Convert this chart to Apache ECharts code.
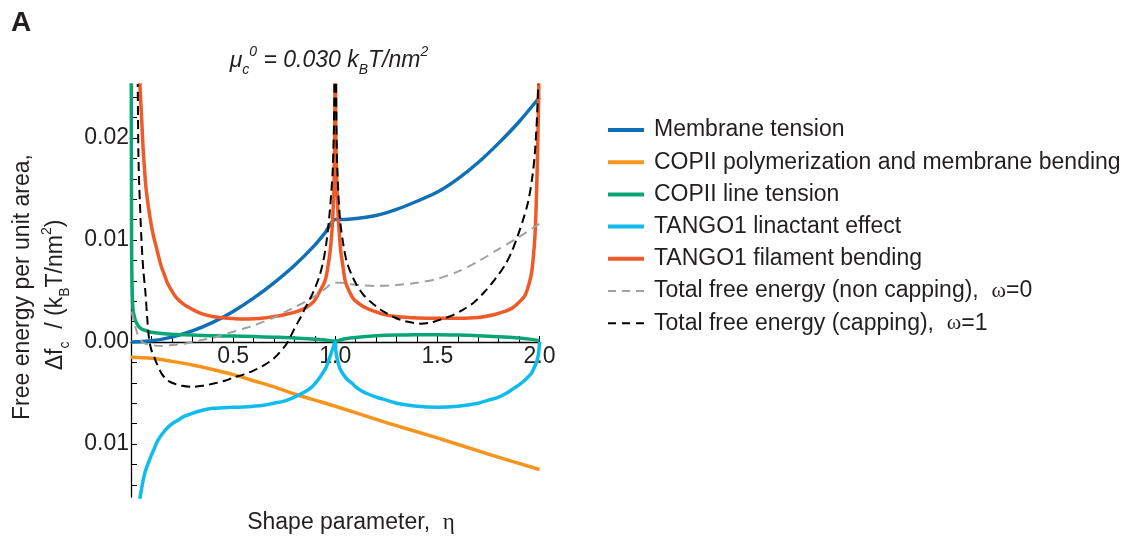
<!DOCTYPE html>
<html>
<head>
<meta charset="utf-8">
<script src="https://cdn.jsdelivr.net/npm/echarts@6/dist/echarts.min.js"></script>
<style>
  html, body { margin: 0; padding: 0; background: #ffffff; }
  #chart { width: 1123px; height: 536px; }
</style>
</head>
<body>
<div id="chart"></div>
<script>
// Free-energy contributions per unit area vs shape parameter η (pairs of [η, Δf])
const membraneTension = [
  [0, 0], [0.1, 0.00012], [0.2, 0.00048], [0.3, 0.00108], [0.4, 0.00192], [0.5, 0.0030],
  [0.6, 0.0043], [0.7, 0.0058], [0.8, 0.0075], [0.9, 0.0095], [0.95, 0.0107], [1.0, 0.0120],
  [1.05, 0.01202], [1.1, 0.0121], [1.2, 0.0124], [1.3, 0.0130], [1.4, 0.0138], [1.5, 0.0147],
  [1.6, 0.0160], [1.7, 0.0176], [1.8, 0.0195], [1.9, 0.0216], [2.0, 0.0240]
];
const copiiPolymerization = [
  [0, -0.0015], [0.1, -0.0016], [0.2, -0.0019], [0.3, -0.00225], [0.4, -0.0027], [0.5, -0.0032],
  [0.6, -0.0038], [0.7, -0.0044], [0.8, -0.0051], [0.9, -0.0057], [1.0, -0.0063],
  [1.25, -0.0079], [1.5, -0.0094], [1.75, -0.0110], [2.0, -0.0125]
];
const copiiLineTension = [
  [0.001, 0.03], [0.003, 0.009], [0.006, 0.0048], [0.01, 0.0032], [0.02, 0.0022], [0.035, 0.0016],
  [0.05, 0.0013], [0.075, 0.0011], [0.1, 0.00095], [0.15, 0.00084], [0.2, 0.00076], [0.3, 0.00068],
  [0.4, 0.00062], [0.5, 0.00058], [0.6, 0.00053], [0.7, 0.00047], [0.8, 0.0004], [0.9, 0.00028],
  [0.95, 0.0002], [1.0, 0.0001], [1.05, 0.00032], [1.1, 0.00045], [1.2, 0.0006], [1.3, 0.00068],
  [1.4, 0.00071], [1.5, 0.00072], [1.6, 0.00069], [1.7, 0.00062], [1.8, 0.00052], [1.9, 0.00038],
  [1.95, 0.00028], [2.0, 0.00015]
];
const tango1Linactant = [
  [0.035, -0.0185], [0.044, -0.0153], [0.05, -0.0146], [0.06, -0.0135], [0.07, -0.0127],
  [0.08, -0.0121], [0.09, -0.0116], [0.1, -0.0111], [0.115, -0.0104], [0.13, -0.0097],
  [0.15, -0.0091], [0.17, -0.0086], [0.19, -0.0082], [0.21, -0.0079], [0.235, -0.0076],
  [0.26, -0.0073], [0.3, -0.0070], [0.35, -0.0067], [0.4, -0.0065], [0.45, -0.00645],
  [0.5, -0.0064], [0.55, -0.00637], [0.6, -0.0063], [0.65, -0.0062], [0.7, -0.0060],
  [0.75, -0.0058], [0.8, -0.0054], [0.85, -0.0049], [0.88, -0.0045], [0.9, -0.0041],
  [0.92, -0.0036], [0.94, -0.0030], [0.955, -0.0025], [0.97, -0.0017], [0.98, -0.0011],
  [0.99, -0.0005], [1.0, 0],
  [1.003, -0.0009], [1.008, -0.0015], [1.015, -0.0021], [1.025, -0.0027], [1.04, -0.0032],
  [1.06, -0.0037], [1.08, -0.0040], [1.1, -0.0044], [1.13, -0.0048], [1.16, -0.0051],
  [1.2, -0.0054], [1.25, -0.0057], [1.3, -0.0060], [1.4, -0.0063], [1.5, -0.0064],
  [1.6, -0.0063], [1.7, -0.0060], [1.75, -0.0057], [1.8, -0.0054], [1.84, -0.0050],
  [1.87, -0.0046], [1.9, -0.0042], [1.925, -0.0038], [1.945, -0.0034], [1.96, -0.0031],
  [1.97, -0.0027], [1.985, -0.0020], [1.995, -0.0012], [2.0, 0]
];
const tango1Filament = [
  [0.04, 0.030], [0.044, 0.0252], [0.048, 0.0235], [0.052, 0.0219], [0.056, 0.0203], [0.06, 0.0187],
  [0.066, 0.0170], [0.072, 0.0154], [0.08, 0.0140], [0.09, 0.0126], [0.1, 0.0114], [0.11, 0.0104],
  [0.12, 0.0096], [0.13, 0.0088], [0.14, 0.0080], [0.15, 0.0073], [0.165, 0.0065], [0.18, 0.0057],
  [0.2, 0.0050], [0.22, 0.0044], [0.24, 0.0040], [0.265, 0.0036], [0.3, 0.0032], [0.33, 0.0029],
  [0.36, 0.00268], [0.4, 0.0025], [0.46, 0.00235], [0.5, 0.0023], [0.55, 0.00226], [0.6, 0.00228],
  [0.65, 0.00235], [0.7, 0.0025], [0.75, 0.00268], [0.8, 0.0029], [0.85, 0.0033], [0.88, 0.0037],
  [0.9, 0.0041], [0.925, 0.0050], [0.95, 0.0060], [0.965, 0.0075], [0.975, 0.0089], [0.982, 0.0104],
  [0.9875, 0.0121], [0.994, 0.0154], [0.998, 0.022], [1.0, 0.04],
  [1.002, 0.022], [1.008, 0.0154], [1.015, 0.0121], [1.021, 0.0104], [1.027, 0.0089], [1.037, 0.0075],
  [1.05, 0.0059], [1.07, 0.0049], [1.09, 0.0042], [1.12, 0.0037], [1.155, 0.0033], [1.2, 0.00295],
  [1.235, 0.00271], [1.3, 0.0025], [1.4, 0.00236], [1.5, 0.00232], [1.6, 0.00232], [1.7, 0.0024],
  [1.78, 0.0027], [1.83, 0.0030], [1.865, 0.0033], [1.9, 0.0039], [1.93, 0.0046], [1.95, 0.0058],
  [1.962, 0.0069], [1.972, 0.0088], [1.978, 0.0105], [1.983, 0.0130], [1.987, 0.0156], [1.991, 0.019],
  [1.994, 0.0219], [1.997, 0.026], [2.0, 0.04]
];
const totalNonCapping = [
  [0.002, 0.003], [0.01, 0.0024], [0.02, 0.0016], [0.03, 0.0009], [0.04, 0.0004], [0.055, 0.0],
  [0.075, -0.0002], [0.1, -0.0003], [0.15, -0.0004], [0.2, -0.0003], [0.25, -0.0002], [0.3, 0.0],
  [0.35, 0.0002], [0.4, 0.0004], [0.45, 0.0007], [0.5, 0.0010], [0.55, 0.0013], [0.6, 0.0016],
  [0.65, 0.0020], [0.7, 0.0024], [0.75, 0.0029], [0.8, 0.0034], [0.85, 0.0039], [0.9, 0.0045],
  [0.95, 0.0052], [0.98, 0.0057], [1.0, 0.0058], [1.03, 0.0058], [1.07, 0.0057], [1.1, 0.0056],
  [1.2, 0.0055], [1.3, 0.0056], [1.4, 0.0058], [1.5, 0.0062], [1.6, 0.0069], [1.7, 0.0079],
  [1.8, 0.0091], [1.9, 0.0103], [2.0, 0.0116]
];
const totalCapping = [
  [0.03, 0.03], [0.033, 0.025], [0.036, 0.0187], [0.04, 0.0155], [0.044, 0.0135], [0.05, 0.0105],
  [0.06, 0.0071], [0.07, 0.0050], [0.08, 0.0022], [0.088, 0.0004], [0.1, -0.0008], [0.118, -0.0017],
  [0.126, -0.0021], [0.15, -0.0031], [0.175, -0.0037], [0.2, -0.0040], [0.25, -0.0043], [0.3, -0.0044],
  [0.35, -0.0043], [0.4, -0.0041], [0.46, -0.0038], [0.5, -0.0035], [0.55, -0.0032], [0.6, -0.0028],
  [0.65, -0.0023], [0.7, -0.0016], [0.75, -0.0005], [0.77, 0.0001], [0.8, 0.0013], [0.83, 0.0024],
  [0.86, 0.0036], [0.89, 0.0048], [0.92, 0.0063], [0.94, 0.0078], [0.955, 0.0095], [0.97, 0.0121],
  [0.98, 0.0145], [0.988, 0.0170], [0.995, 0.023], [1.0, 0.04],
  [1.005, 0.023], [1.01, 0.017], [1.023, 0.0121], [1.04, 0.0095], [1.056, 0.0079], [1.08, 0.0066],
  [1.105, 0.0056], [1.135, 0.0047], [1.17, 0.0040], [1.2, 0.0035], [1.235, 0.0030], [1.29, 0.0024],
  [1.35, 0.0020], [1.42, 0.0018], [1.47, 0.0019], [1.5, 0.0021], [1.56, 0.0025], [1.62, 0.0031],
  [1.68, 0.0039], [1.73, 0.0049], [1.78, 0.0061], [1.83, 0.0075], [1.865, 0.0089], [1.895, 0.0105],
  [1.92, 0.0120], [1.945, 0.0138], [1.965, 0.0162], [1.978, 0.0187], [1.991, 0.0236], [1.997, 0.03]
];

// Axis ticks and labels
const xTickValues = [0.1, 0.2, 0.3, 0.4, 0.5, 0.6, 0.7, 0.8, 0.9, 1.0, 1.1, 1.2, 1.3, 1.4, 1.5, 1.6, 1.7, 1.8, 1.9, 2.0];
const xLabelValues = [0.5, 1.0, 1.5, 2.0];
const yTickValues = [-0.014, -0.012, -0.010, -0.008, -0.006, -0.004, -0.002, 0, 0.002, 0.004, 0.006,
  0.008, 0.010, 0.012, 0.014, 0.016, 0.018, 0.020, 0.022, 0.024];
const yLabelValues = [-0.01, 0, 0.01, 0.02];

const seriesNames = [
  'Membrane tension',
  'COPII polymerization and membrane bending',
  'COPII line tension',
  'TANGO1 linactant effect',
  'TANGO1 filament bending',
  'Total free energy (non capping),  ω=0',
  'Total free energy (capping),  ω=1'
];

const FONT = '"Liberation Sans", Arial, Helvetica, sans-serif';
const SERIF = '"Liberation Serif", "Times New Roman", serif';
const INK = '#231f20';

// Plot frame and value range
const GRID = { left: 131, top: 85, width: 408.5, height: 412 };
const Y_MIN = -0.0152, Y_MAX = 0.0252;
// Horizontal axis sits on Δf = 0 inside the frame
const zeroOffset = -GRID.height * (0 - Y_MIN) / (Y_MAX - Y_MIN);

function curve(name, data, color, width, dash) {
  return {
    name: name,
    type: 'line',
    data: data,
    symbol: 'none',
    showSymbol: false,
    smooth: 0.3,
    clip: true,
    silent: true,
    lineStyle: { color: color, width: width, type: dash || 'solid', cap: 'butt', join: 'round' },
    itemStyle: { color: color }
  };
}

function legendEntry(name, color, width, dash) {
  return { name: name, itemStyle: { opacity: 0 }, lineStyle: { color: color, width: width, type: dash || 'solid' } };
}

const palette = ['#1070b6', '#f7941d', '#0aa575', '#10bbee', '#f05a28', '#a0a0a0', '#000000'];

const chart = echarts.init(document.getElementById('chart'), null, { renderer: 'canvas' });

chart.setOption({
  animation: false,
  backgroundColor: '#ffffff',
  grid: { left: GRID.left, top: GRID.top, width: GRID.width, height: GRID.height, containLabel: false, outerBoundsMode: 'none' },
  xAxis: {
    type: 'value',
    min: 0,
    max: 2,
    offset: zeroOffset,
    axisLine: { show: true, onZero: false, lineStyle: { color: '#000', width: 1.3 } },
    axisTick: { show: true, inside: true, length: 6, customValues: xTickValues, lineStyle: { color: '#000', width: 1 } },
    axisLabel: {
      show: true, customValues: xLabelValues, margin: 3,
      formatter: function (v) { return Number(v).toFixed(1); },
      fontSize: 23, fontFamily: FONT, color: INK
    },
    splitLine: { show: false }
  },
  yAxis: {
    type: 'value',
    min: Y_MIN,
    max: Y_MAX,
    axisLine: { show: true, onZero: false, lineStyle: { color: '#000', width: 1.3 } },
    axisTick: { show: true, inside: true, length: 6, customValues: yTickValues, lineStyle: { color: '#000', width: 1 } },
    axisLabel: {
      show: true, customValues: yLabelValues, margin: 2,
      formatter: function (v) { return Math.abs(v).toFixed(2); },
      fontSize: 23, fontFamily: FONT, color: INK
    },
    splitLine: { show: false }
  },
  legend: {
    orient: 'vertical',
    left: 601,
    top: 113,
    itemWidth: 36,
    itemHeight: 14,
    itemGap: 8.2,
    selectedMode: false,
    data: [
      legendEntry(seriesNames[0], palette[0], 4),
      legendEntry(seriesNames[1], palette[1], 4),
      legendEntry(seriesNames[2], palette[2], 4),
      legendEntry(seriesNames[3], palette[3], 4),
      legendEntry(seriesNames[4], palette[4], 4),
      legendEntry(seriesNames[5], palette[5], 2, [8, 6]),
      legendEntry(seriesNames[6], palette[6], 2, [8, 6])
    ],
    formatter: function (name) { return name.replace('ω', '{g|ω}'); },
    textStyle: {
      fontSize: 23, fontFamily: FONT, color: INK, lineHeight: 24, padding: [0, 0, 0, 5],
      rich: { g: { fontFamily: SERIF, fontSize: 22, color: INK, lineHeight: 24 } }
    }
  },
  series: [
    curve(seriesNames[0], membraneTension, palette[0], 3.5),
    curve(seriesNames[1], copiiPolymerization, palette[1], 3.5),
    curve(seriesNames[2], copiiLineTension, palette[2], 3.5),
    curve(seriesNames[3], tango1Linactant, palette[3], 3.5),
    curve(seriesNames[4], tango1Filament, palette[4], 3.5),
    curve(seriesNames[5], totalNonCapping, palette[5], 2, [9, 6]),
    curve(seriesNames[6], totalCapping, palette[6], 2, [9, 5])
  ],
  graphic: [
    {
      type: 'text', x: 11, y: 23,
      style: { text: 'A', fontSize: 28, fontWeight: 'bold', fontFamily: FONT, fill: INK, align: 'left', verticalAlign: 'middle' }
    },
    {
      type: 'text', x: 329, y: 61,
      style: {
        text: '{i|μ}{sub|c}{sup|0}{i| = 0.030 k}{sub|B}{i|T/nm}{sup|2}',
        align: 'center', verticalAlign: 'middle', fill: INK,
        fontSize: 23, fontFamily: FONT, fontStyle: 'italic',
        rich: {
          i: { fontSize: 23, fontFamily: FONT, fontStyle: 'italic', fill: INK, lineHeight: 32, verticalAlign: 'middle' },
          sub: { fontSize: 14, fontFamily: FONT, fontStyle: 'italic', fill: INK, lineHeight: 14, verticalAlign: 'bottom' },
          sup: { fontSize: 14, fontFamily: FONT, fontStyle: 'italic', fill: INK, lineHeight: 14, verticalAlign: 'top' }
        }
      }
    },
    {
      type: 'text', x: 23, y: 287, rotation: Math.PI / 2,
      style: { text: 'Free energy per unit area,', fontSize: 23, fontFamily: FONT, fill: INK, align: 'center', verticalAlign: 'middle' }
    },
    {
      type: 'text', x: 56, y: 295, rotation: Math.PI / 2,
      style: {
        text: '{n|Δf}{sub|c}{n|  / (k}{sub|B}{n|T/nm}{sup|2}{n|)}',
        align: 'center', verticalAlign: 'middle', fill: INK, fontSize: 23, fontFamily: FONT,
        rich: {
          n: { fontSize: 23, fontFamily: FONT, fill: INK, lineHeight: 32, verticalAlign: 'middle' },
          sub: { fontSize: 14, fontFamily: FONT, fill: INK, lineHeight: 14, verticalAlign: 'bottom' },
          sup: { fontSize: 14, fontFamily: FONT, fill: INK, lineHeight: 14, verticalAlign: 'top' }
        }
      }
    },
    {
      type: 'text', x: 351, y: 523,
      style: {
        text: '{n|Shape parameter,  }{g|η}',
        align: 'center', verticalAlign: 'middle', fill: INK, fontSize: 23, fontFamily: FONT,
        rich: {
          n: { fontSize: 23, fontFamily: FONT, fill: INK },
          g: { fontSize: 23, fontFamily: SERIF, fill: INK }
        }
      }
    }
  ]
});
</script>
</body>
</html>
